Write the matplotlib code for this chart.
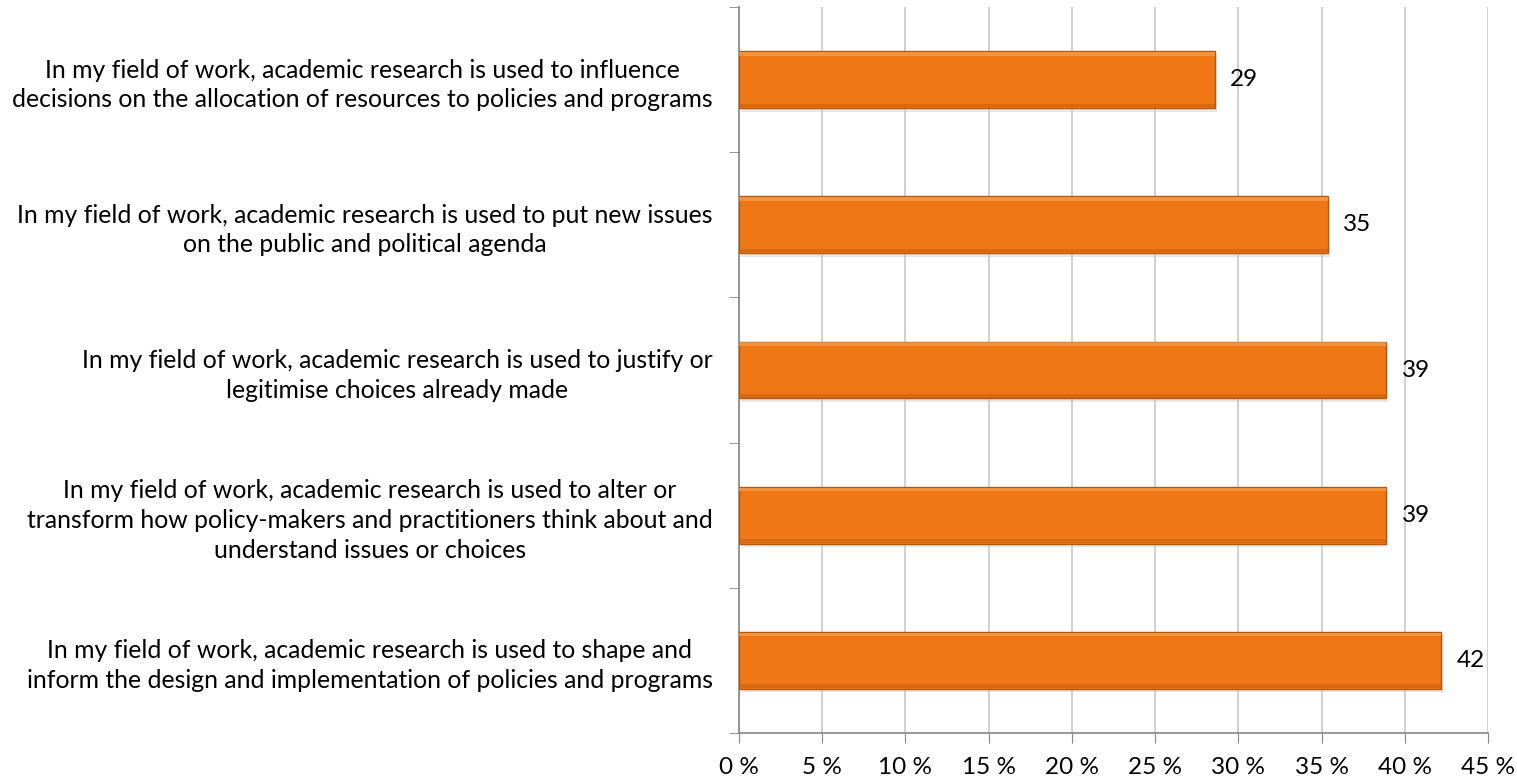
import numpy as np
from matplotlib import pyplot as plt
from matplotlib import font_manager

# Kategorien von oben nach unten
categories = [
    "In my field of work, academic research is used to influence\ndecisions on the allocation of resources to policies and programs",
    "In my field of work, academic research is used to put new issues\non the public and political agenda",
    "In my field of work, academic research is used to justify or\nlegitimise choices already made",
    "In my field of work, academic research is used to alter or\ntransform how policy-makers and practitioners think about and\nunderstand issues or choices",
    "In my field of work, academic research is used to shape and\ninform the design and implementation of policies and programs",
]
values = [28.6, 35.4, 38.9, 38.9, 42.2]
value_labels = ["29", "35", "39", "39", "42"]
xticks = [0, 5, 10, 15, 20, 25, 30, 35, 40, 45]
xtick_labels = ["0 %", "5 %", "10 %", "15 %", "20 %", "25 %", "30 %", "35 %", "40 %", "45 %"]

names = {f.name for f in font_manager.fontManager.ttflist}
fam = "DejaVu Sans"
for cand in ["Liberation Sans Narrow", "Lato", "Roboto", "Open Sans"]:
    if cand in names:
        fam = cand
        break
plt.rcParams['font.family'] = [fam, 'DejaVu Sans']

fig = plt.figure(figsize=(15.17, 7.82), dpi=100)
ax = fig.add_axes([739/1517, 49/782, 749/1517, 726/782])

y = np.arange(len(categories))
# Schatten
ax.barh(y + 0.025, values, height=0.39, left=0.12, color='#c8c8c8', alpha=0.45, linewidth=0, zorder=2)
ax.barh(y, values, height=0.39, color='#F07716', edgecolor='#B3580E', linewidth=1.0, zorder=3)
# Kanten (Bevel-Effekt)
ax.barh(y - 0.178, values, height=0.025, color='#F8A85A', alpha=0.6, linewidth=0, zorder=4)
ax.barh(y + 0.178, values, height=0.025, color='#C25C0E', alpha=0.5, linewidth=0, zorder=4)

for yi, v, lab in zip(y, values, value_labels):
    ax.text(v + 0.9, yi, lab, va='center', ha='left', fontsize=17.5, color='black', zorder=5)

ax.set_xlim(0, 45)
ax.set_ylim(len(categories) - 0.5, -0.5)
ax.set_xticks(xticks)
ax.set_xticklabels(xtick_labels, fontsize=17.5)
ax.set_yticks(y)
ax.set_yticklabels(categories, fontsize=17.8, linespacing=1.35)
for t in ax.get_yticklabels():
    t.set_multialignment('center')
ax.set_yticks(np.arange(-0.5, len(categories)), minor=True)
ax.tick_params(axis='y', which='major', length=0, pad=19)
ax.tick_params(axis='y', which='minor', length=7, color='#868686', direction='out')
ax.tick_params(axis='x', length=7, color='#868686', direction='out', pad=10)

ax.grid(axis='x', color='#C8C8C8', linewidth=1.2, zorder=0)
ax.set_axisbelow(True)
for s in ['top', 'right']:
    ax.spines[s].set_visible(False)
for s in ['left', 'bottom']:
    ax.spines[s].set_color('#868686')
    ax.spines[s].set_linewidth(1.2)

fig.savefig('out.png', dpi=100)
